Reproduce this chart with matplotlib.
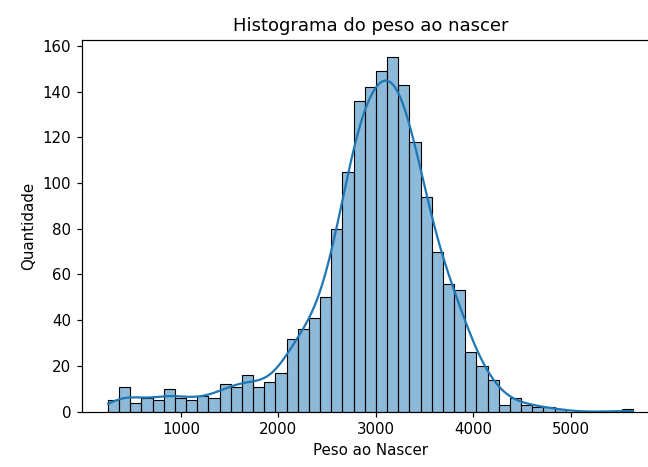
#!/usr/bin/env python3
"""
Histograma do peso ao nascer - histogram + KDE recreated with seaborn
"""

import matplotlib
matplotlib.use("Agg")
import matplotlib.pyplot as plt
import numpy as np
import seaborn as sns

# Bin range (grams) and counts
peso_min = 252
peso_max = 5637
n_bins = 47
quantidade = [
    5, 11, 4, 6, 5, 10, 6, 5, 7, 6,
    12, 11, 16, 11, 13, 17, 32, 36, 41, 50,
    80, 105, 136, 142, 149, 155, 143, 118, 94, 70,
    56, 53, 26, 20, 14, 3, 6, 3, 2, 2,
    1, 0, 0, 0, 0, 0, 1,
]
x_ticks = [1000, 2000, 3000, 4000, 5000]

# Rebuild one observation per counted baby at its bin centre
edges = np.linspace(peso_min, peso_max, n_bins + 1)
centros = (edges[:-1] + edges[1:]) / 2
peso = np.repeat(centros, quantidade)

fig = plt.figure(figsize=(6, 467 / 108), dpi=108)
ax = fig.add_axes([0.1261, 0.1184, 0.891, 0.797])

sns.histplot(x=peso, bins=edges, kde=True, ax=ax,
             kde_kws={"cut": 0.35})

ax.set_title("Histograma do peso ao nascer")
ax.set_xlabel("Peso ao Nascer")
ax.set_ylabel("Quantidade")
ax.set_xticks(x_ticks)
ax.set_yticks(np.arange(0, 161, 20))

fig.savefig("out.png", dpi=108)
